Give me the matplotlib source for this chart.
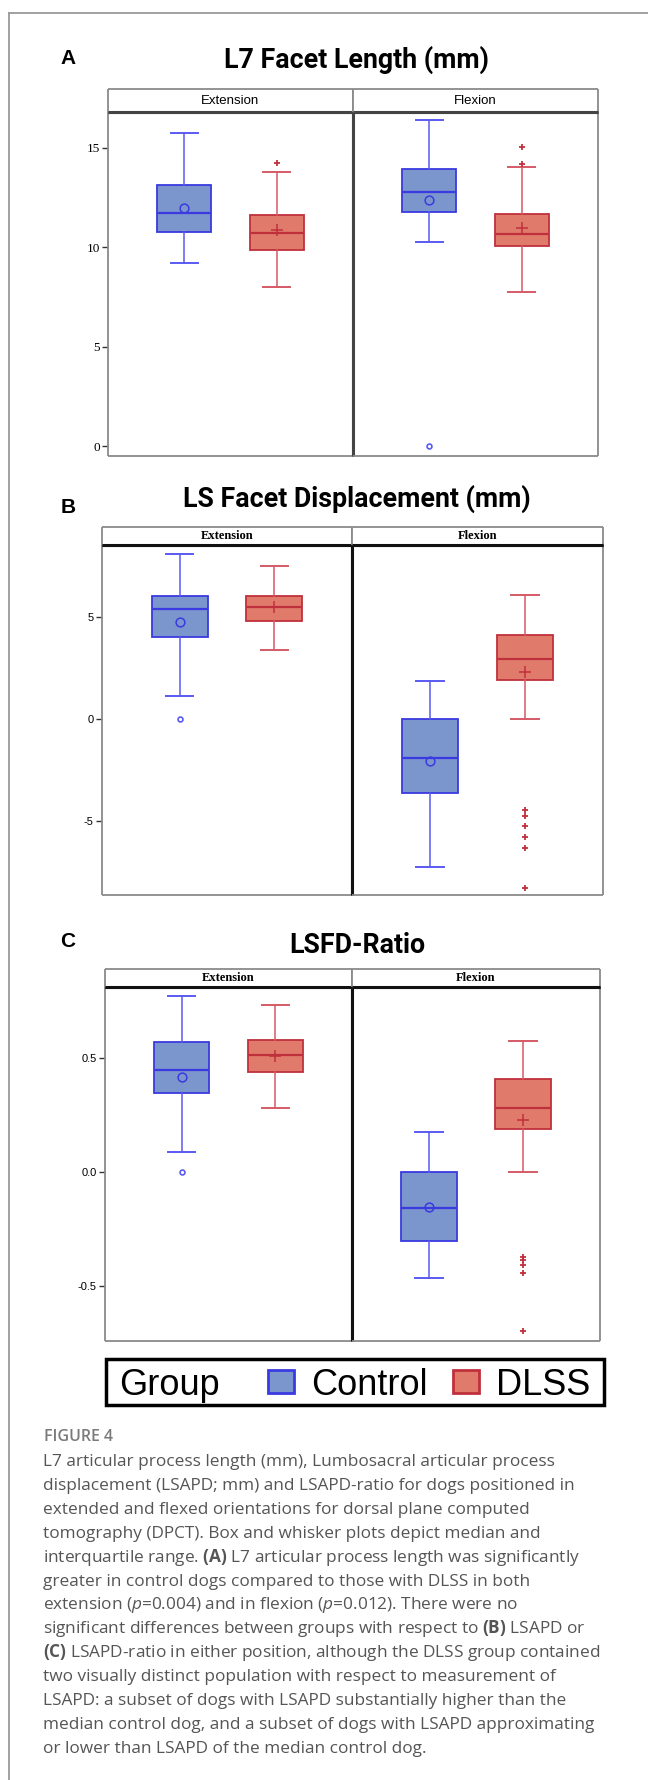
import matplotlib
matplotlib.use('Agg')
import matplotlib.pyplot as plt
from matplotlib.patches import Rectangle
from matplotlib.lines import Line2D

plt.rcParams['mathtext.fontset'] = 'custom'
plt.rcParams['mathtext.rm'] = 'Open Sans'
plt.rcParams['mathtext.bf'] = 'Open Sans:bold'
plt.rcParams['mathtext.it'] = 'Open Sans:italic'

facets = ['Extension', 'Flexion']
groups = ['Control', 'DLSS']

# order in each list: Ext-Control, Ext-DLSS, Flex-Control, Flex-DLSS
len_whislo = [9.21, 8.01, 10.28, 7.74]
len_q1 = [10.77, 9.88, 11.76, 10.05]
len_med = [11.71, 10.70, 12.78, 10.67]
len_q3 = [13.12, 11.61, 13.94, 11.66]
len_whishi = [15.72, 13.79, 16.40, 14.03]
len_mean = [11.96, 10.89, 12.38, 10.95]
len_fliers = [[], [14.23], [0.0], [15.03, 14.21]]

disp_whislo = [1.11, 3.35, -7.25, 0.0]
disp_q1 = [4.02, 4.81, -3.61, 1.90]
disp_med = [5.35, 5.48, -1.90, 2.91]
disp_q3 = [6.03, 6.00, 0.0, 4.10]
disp_whishi = [8.07, 7.48, 1.84, 6.05]
disp_mean = [4.73, 5.45, -2.07, 2.28]
disp_fliers = [[0.0], [], [], [-4.47, -4.73, -5.22, -5.79, -6.29, -8.24]]

ratio_whislo = [0.087, 0.279, -0.465, 0.0]
ratio_q1 = [0.347, 0.440, -0.300, 0.188]
ratio_med = [0.446, 0.512, -0.158, 0.281]
ratio_q3 = [0.568, 0.580, 0.0, 0.408]
ratio_whishi = [0.770, 0.731, 0.177, 0.574]
ratio_mean = [0.414, 0.509, -0.155, 0.228]
ratio_fliers = [[0.0], [], [], [-0.371, -0.386, -0.407, -0.444, -0.697]]

titles = ['L7 Facet Length (mm)', 'LS Facet Displacement (mm)', 'LSFD-Ratio']
letters = ['A', 'B', 'C']
yticks = [[0, 5, 10, 15], [-5, 0, 5], [-0.5, 0.0, 0.5]]
ytick_labels = [['0', '5', '10', '15'], ['-5', '0', '5'], ['-0.5', '0.0', '0.5']]
ylims = [(-0.5, 16.8), (-8.6, 8.5), (-0.74, 0.81)]

caption = [
    'L7 articular process length (mm), Lumbosacral articular process',
    'displacement (LSAPD; mm) and LSAPD-ratio for dogs positioned in',
    'extended and flexed orientations for dorsal plane computed',
    'tomography (DPCT). Box and whisker plots depict median and',
    r'interquartile range. $\mathbf{(A)}$ L7 articular process length was significantly',
    'greater in control dogs compared to those with DLSS in both',
    r'extension ($\mathit{p}$=0.004) and in flexion ($\mathit{p}$=0.012). There were no',
    r'significant differences between groups with respect to $\mathbf{(B)}$ LSAPD or',
    r'$\mathbf{(C)}$ LSAPD-ratio in either position, although the DLSS group contained',
    'two visually distinct population with respect to measurement of',
    'LSAPD: a subset of dogs with LSAPD substantially higher than the',
    'median control dog, and a subset of dogs with LSAPD approximating',
    'or lower than LSAPD of the median control dog.',
]

stats_all = [
    (len_whislo, len_q1, len_med, len_q3, len_whishi, len_mean, len_fliers),
    (disp_whislo, disp_q1, disp_med, disp_q3, disp_whishi, disp_mean, disp_fliers),
    (ratio_whislo, ratio_q1, ratio_med, ratio_q3, ratio_whishi, ratio_mean, ratio_fliers),
]

W, H = 648, 1780
def fx(x):
    return x / W
def fy(y):
    return 1 - y / H

fill = {'Control': '#7b96cc', 'DLSS': '#e07b6c'}
edge = {'Control': '#3a3ae0', 'DLSS': '#c0303c'}
wcol = {'Control': '#5a5af2', 'DLSS': '#d45a66'}

fig = plt.figure(figsize=(6.48, 17.80), dpi=100)

# panel geometry in pixels: left, divider, right, strip top, strip bottom, plot bottom
geom = [(108, 353, 598, 89, 112, 456), (102, 352, 603, 527, 545, 895), (105, 352, 600, 969, 987, 1341)]
title_y = [68, 507, 953]
letter_y = [64, 513, 947]

for p in range(3):
    left, mid, right, st, sb, bot = geom[p]
    whislo, q1, med, q3, whishi, mean, fliers = stats_all[p]
    inner = '#444444' if p == 0 else '#111111'
    if p == 0:
        strip_font = dict(family='Liberation Sans', fontsize=9.5)
        tick_font = dict(family='Liberation Serif', fontsize=9.5)
    else:
        strip_font = dict(family='Liberation Serif', fontsize=9, fontweight='bold')
        tick_font = dict(family='Liberation Sans', fontsize=8)

    fig.text(fx(357), fy(title_y[p]), titles[p], ha='center', va='baseline',
             fontsize=19.3, fontweight='bold', family='Roboto')
    fig.text(fx(68), fy(letter_y[p]), letters[p], ha='center', va='baseline',
             fontsize=15, fontweight='bold', family='Liberation Sans')

    for j in range(2):
        x0, x1 = (left, mid) if j == 0 else (mid, right)
        ax = fig.add_axes([fx(x0), fy(bot), (x1 - x0) / W, (bot - sb) / H])
        for g in range(2):
            k = j * 2 + g
            grp = groups[g]
            st_ = dict(whislo=whislo[k], q1=q1[k], med=med[k], q3=q3[k],
                       whishi=whishi[k], mean=mean[k], fliers=fliers[k])
            if grp == 'Control':
                mprops = dict(marker='o', markerfacecolor='none', markeredgecolor=edge[grp],
                              markersize=6.3, markeredgewidth=1.1)
                fprops = dict(marker='o', markerfacecolor='none', markeredgecolor=wcol[grp],
                              markersize=3.5, markeredgewidth=1.2)
            else:
                mprops = dict(marker='+', markeredgecolor=edge[grp], markersize=8, markeredgewidth=1.1)
                fprops = dict(marker='+', markeredgecolor=edge[grp], markersize=4.5, markeredgewidth=1.3)
            ax.bxp([st_], positions=[g], widths=0.59, capwidths=0.29, patch_artist=True,
                   showmeans=True, manage_ticks=False,
                   boxprops=dict(facecolor=fill[grp], edgecolor=edge[grp], linewidth=1.3),
                   whiskerprops=dict(color=wcol[grp], linewidth=1.1),
                   capprops=dict(color=wcol[grp], linewidth=1.4),
                   medianprops=dict(color=edge[grp], linewidth=1.6),
                   meanprops=mprops, flierprops=fprops)
        ax.set_xlim(-0.82, 1.82)
        ax.set_ylim(*ylims[p])
        ax.set_xticks([])
        for s in ax.spines.values():
            s.set_color('#8a8a8a')
            s.set_linewidth(1.3)
            s.set_capstyle('butt')
        ax.spines['top'].set_color(inner)
        ax.spines['top'].set_linewidth(2.2)
        if j == 0:
            ax.spines['right'].set_color(inner)
            ax.spines['right'].set_linewidth(2.2)
            ax.set_yticks(yticks[p])
            ax.set_yticklabels(ytick_labels[p], **tick_font)
            ax.tick_params(axis='y', direction='out', length=4, width=1, color='#333', pad=2)
        else:
            ax.spines['left'].set_color(inner)
            ax.spines['left'].set_linewidth(2.2)
            ax.set_yticks([])

        sx = fig.add_axes([fx(x0), fy(sb), (x1 - x0) / W, (sb - st) / H])
        sx.set_xticks([])
        sx.set_yticks([])
        for s in sx.spines.values():
            s.set_color('#8a8a8a')
            s.set_linewidth(1.3)
            s.set_capstyle('butt')
        sx.spines['bottom'].set_color(inner)
        sx.spines['bottom'].set_linewidth(2.2)
        sx.text(0.5, 0.5, facets[j], ha='center', va='center', transform=sx.transAxes, **strip_font)

# legend
fig.add_artist(Rectangle((fx(106), fy(1405)), (604 - 106) / W, 46 / H, transform=fig.transFigure,
                         fill=False, edgecolor='black', linewidth=2.5))
fig.text(fx(119), fy(1395), 'Group', fontsize=26, family='Liberation Sans', va='baseline')
for grp, px, tx in [('Control', 268, 311), ('DLSS', 453, 496)]:
    fig.add_artist(Rectangle((fx(px), fy(1393)), 26 / W, 23 / H, transform=fig.transFigure,
                             facecolor=fill[grp], edgecolor=edge[grp], linewidth=2))
    fig.text(fx(tx), fy(1395), grp, fontsize=26, family='Liberation Sans', va='baseline')

# page border
fig.add_artist(Line2D([fx(9), fx(9)], [fy(13), 0], color='#9a9a9a', linewidth=1.3))
fig.add_artist(Line2D([fx(9), 1], [fy(13), fy(13)], color='#9a9a9a', linewidth=1.3))

# caption
fig.text(fx(44), fy(1441), 'FIGURE 4', fontsize=11.5, color='#7a7a7a', fontweight='semibold',
         family='Open Sans', va='baseline')
for i, line in enumerate(caption):
    fig.text(fx(43), fy(1466 + 23.9 * i), line, fontsize=12.4, color='#555555',
             family='Open Sans', va='baseline')

fig.savefig('out.png', dpi=100)
